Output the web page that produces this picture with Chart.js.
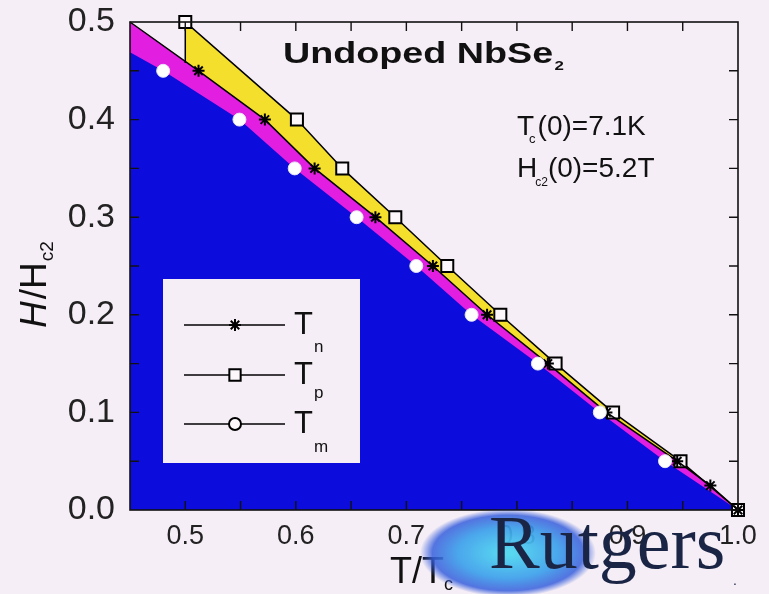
<!DOCTYPE html>
<html><head><meta charset="utf-8">
<script src="https://cdn.jsdelivr.net/npm/chart.js@4/dist/chart.umd.min.js"></script>
<style>html,body{margin:0;padding:0;background:#f6eef6;}canvas{display:block;}</style>
</head><body>
<canvas id="c" width="769" height="594"></canvas>
<script>
// ---- data ----
// T_n (asterisks): reduced temperature T/Tc and field H/Hc2
const tnT = [0.512, 0.572, 0.617, 0.672, 0.724, 0.773, 0.828, 0.881, 0.945, 0.975, 1.000];
const tnH = [0.45, 0.40, 0.35, 0.30, 0.25, 0.20, 0.15, 0.10, 0.05, 0.025, 0.00];
// T_p (open squares)
const tpT = [0.500, 0.601, 0.642, 0.690, 0.737, 0.785, 0.835, 0.887, 0.948, 1.000];
const tpH = [0.50, 0.40, 0.35, 0.30, 0.25, 0.20, 0.15, 0.10, 0.05, 0.00];
// T_m (open circles)
const tmT = [0.480, 0.549, 0.599, 0.655, 0.709, 0.759, 0.819, 0.875, 0.934, 1.000];
const tmH = [0.45, 0.40, 0.35, 0.30, 0.25, 0.20, 0.15, 0.10, 0.05, 0.00];
// where the shaded regions meet the frame
const tnEdge = [0.45, 0.500];
const tmEdge = [0.45, 0.469];
const tpEdge = [0.50, 0.458];
// axes
const xTickLabels = [0.5, 0.6, 0.7, 0.8, 0.9, 1.0];
const yTickLabels = [0.0, 0.1, 0.2, 0.3, 0.4, 0.5];
const xTickMarks = [0.5, 0.55, 0.6, 0.65, 0.7, 0.75, 0.8, 0.85, 0.9, 0.95];
const yTickMarks = [0.05, 0.1, 0.15, 0.2, 0.25, 0.3, 0.35, 0.4, 0.45];
const xRange = [0.45, 1.0];
const yRange = [0.0, 0.5];

const BG = '#f6eef6', BLUE = '#0c0cdc', MAGENTA = '#e21ee0', YELLOW = '#f3df2c';
const SANS = '"Liberation Sans", Arial, sans-serif';

function pts(xs, ys) { return xs.map((x, i) => ({x: x, y: ys[i]})); }
const edgePt = e => ({x: e[0], y: e[1]});

const datasets = [
  {label: 'fillTp', data: pts(tpT, tpH), showLine: true, fill: 'origin', backgroundColor: YELLOW,
   borderWidth: 0, pointRadius: 0, tension: 0, order: 6},
  {label: 'fillTn', data: [edgePt(tnEdge)].concat(pts(tnT, tnH)), showLine: true, fill: 'origin', backgroundColor: MAGENTA,
   borderWidth: 0, pointRadius: 0, tension: 0, order: 5},
  {label: 'fillTm', data: [edgePt(tmEdge)].concat(pts(tmT, tmH)), showLine: true, fill: 'origin', backgroundColor: BLUE,
   borderWidth: 0, pointRadius: 0, tension: 0, order: 4},
  {label: 'Tp', data: [edgePt(tpEdge)].concat(pts(tpT, tpH)), showLine: true, fill: false, borderColor: '#000', borderWidth: 1.5,
   pointStyle: 'rect', pointRadius: c => c.dataIndex === 0 ? 0 : 8.5, pointBackgroundColor: '#fbf7fb',
   pointBorderColor: '#000', pointBorderWidth: 2, tension: 0, clip: false, order: 3},
  {label: 'Tn', data: [edgePt(tnEdge)].concat(pts(tnT, tnH)), showLine: true, fill: false, borderColor: '#000', borderWidth: 1.5,
   pointStyle: 'star', pointRadius: c => c.dataIndex === 0 ? 0 : 6, pointBorderColor: '#000', pointBorderWidth: 2,
   tension: 0, clip: false, order: 2},
  {label: 'Tm', data: pts(tmT, tmH), showLine: false, fill: false,
   pointStyle: 'circle', pointRadius: c => (c.raw && c.raw.y === 0) ? 0 : 6.5, pointBackgroundColor: '#ffffff',
   pointBorderColor: '#e6e6f6', pointBorderWidth: 1, clip: false, order: 1}
];

function drawParts(ctx, parts, x, y) {
  let cx = x;
  for (const p of parts) {
    ctx.font = p.font;
    cx += (p.dx || 0);
    ctx.fillText(p.t, cx, y + (p.dy || 0));
    cx += ctx.measureText(p.t).width;
  }
}

const decor = {
  id: 'decor',
  beforeDraw(chart) {
    const ctx = chart.ctx;
    ctx.save(); ctx.fillStyle = BG; ctx.fillRect(0, 0, chart.width, chart.height); ctx.restore();
  },
  afterDatasetsDraw(chart) {
    const ctx = chart.ctx, a = chart.chartArea, xs = chart.scales.x, ys = chart.scales.y;
    ctx.save();
    ctx.strokeStyle = '#111'; ctx.lineWidth = 1.6;
    ctx.strokeRect(a.left, a.top, a.right - a.left, a.bottom - a.top);
    ctx.lineWidth = 1.4;
    const L = 9;
    ctx.beginPath();
    for (const v of xTickMarks) {
      const px = xs.getPixelForValue(v);
      ctx.moveTo(px, a.top); ctx.lineTo(px, a.top + L);
      ctx.moveTo(px, a.bottom); ctx.lineTo(px, a.bottom - L);
    }
    for (const v of yTickMarks) {
      const py = ys.getPixelForValue(v);
      ctx.moveTo(a.left, py); ctx.lineTo(a.left + L, py);
      ctx.moveTo(a.right, py); ctx.lineTo(a.right - L, py);
    }
    ctx.stroke();
    ctx.restore();
  },
  afterDraw(chart) {
    const ctx = chart.ctx, a = chart.chartArea;
    const H = Chart.helpers;
    ctx.save();
    ctx.fillStyle = '#111';
    ctx.textBaseline = 'alphabetic';
    ctx.textAlign = 'left';
    // title (horizontally stretched like the original)
    ctx.save();
    ctx.translate(a.left + 153, a.top + 41);
    ctx.scale(1.3, 1);
    drawParts(ctx, [
      {t: 'Undoped NbSe', font: 'bold 29px ' + SANS},
      {t: '2', font: 'bold 13px ' + SANS, dy: 7, dx: 1}
    ], 0, 0);
    ctx.restore();
    // parameters
    drawParts(ctx, [
      {t: 'T', font: '28px ' + SANS},
      {t: 'c', font: '13px ' + SANS, dy: 8, dx: -5},
      {t: '(0)=7.1K', font: '28px ' + SANS, dx: 2}
    ], a.left + 387, a.top + 113);
    drawParts(ctx, [
      {t: 'H', font: '28px ' + SANS},
      {t: 'c2', font: '12px ' + SANS, dy: 9, dx: -2},
      {t: '(0)=5.2T', font: '28px ' + SANS, dx: 0}
    ], a.left + 387, a.top + 155);

    // legend box
    const bx = a.left + 33, by = a.top + 257, bw = 197, bh = 184;
    ctx.fillStyle = BG;
    ctx.fillRect(bx, by, bw, bh);
    const rows = [
      {y: by + 46, ds: 4, sub: 'n', sdy: 18},
      {y: by + 96, ds: 3, sub: 'p', sdy: 14},
      {y: by + 145, ds: 5, sub: 'm', sdy: 19}
    ];
    for (const r of rows) {
      ctx.strokeStyle = '#000'; ctx.lineWidth = 1.5;
      ctx.beginPath(); ctx.moveTo(bx + 21, r.y); ctx.lineTo(bx + 122, r.y); ctx.stroke();
      const style = chart.data.datasets[r.ds].pointStyle;
      ctx.fillStyle = '#fbf7fb'; ctx.strokeStyle = '#000'; ctx.lineWidth = 2;
      const rad = style === 'rect' ? 8 : 6;
      H.drawPoint(ctx, {pointStyle: style, radius: rad, rotation: 0, borderWidth: 2}, bx + 72, r.y);
      ctx.fillStyle = '#111';
      drawParts(ctx, [
        {t: 'T', font: '31px ' + SANS},
        {t: r.sub, font: '17px ' + SANS, dy: r.sdy, dx: 1}
      ], bx + 131, r.y + 9);
    }

    // y axis title
    ctx.save();
    ctx.fillStyle = '#111';
    ctx.translate(46, 328);
    ctx.rotate(-Math.PI / 2);
    drawParts(ctx, [
      {t: 'H', font: 'italic 37px ' + SANS},
      {t: '/H', font: '37px ' + SANS, dx: 2},
      {t: 'c2', font: '19px ' + SANS, dy: 7, dx: 1}
    ], 0, 0);
    ctx.restore();

    // x axis title
    ctx.fillStyle = '#111';
    drawParts(ctx, [
      {t: 'T', font: '36px ' + SANS},
      {t: '/T', font: '36px ' + SANS},
      {t: 'c', font: '18px ' + SANS, dy: 7}
    ], 390, 583);

    // Rutgers logo watermark
    ctx.save();
    ctx.translate(508, 553);
    ctx.scale(1, 0.5);
    const g = ctx.createRadialGradient(0, 0, 5, 0, 0, 88);
    g.addColorStop(0, 'rgba(80,215,240,0.95)');
    g.addColorStop(0.55, 'rgba(60,160,235,0.92)');
    g.addColorStop(0.85, 'rgba(55,95,220,0.85)');
    g.addColorStop(1, 'rgba(55,95,220,0)');
    ctx.fillStyle = g;
    ctx.beginPath(); ctx.arc(0, 0, 88, 0, Math.PI * 2); ctx.fill();
    ctx.restore();
    ctx.fillStyle = '#1a2546';
    ctx.font = '76px "Liberation Serif", "Times New Roman", serif';
    ctx.fillText('Rutgers', 489, 568);
    ctx.font = '14px ' + SANS;
    ctx.fillText('.', 733, 585);
    ctx.restore();
  }
};

new Chart(document.getElementById('c'), {
  type: 'scatter',
  data: {datasets: datasets},
  options: {
    responsive: false,
    devicePixelRatio: 1,
    animation: false,
    events: [],
    layout: {padding: {left: 0, top: 22, right: 31, bottom: 0}},
    plugins: {legend: {display: false}, tooltip: {enabled: false}},
    scales: {
      x: {
        type: 'linear', min: xRange[0], max: xRange[1],
        grid: {display: false, drawTicks: false}, border: {display: false},
        afterBuildTicks: s => { s.ticks = xTickLabels.map(v => ({value: v})); },
        afterFit: s => { s.height = 84; s.paddingLeft = 0; s.paddingRight = 0; },
        ticks: {color: '#222', padding: 10, font: {family: SANS, size: 27},
                callback: v => Number(v).toFixed(1)}
      },
      y: {
        type: 'linear', min: yRange[0], max: yRange[1],
        grid: {display: false, drawTicks: false}, border: {display: false},
        afterBuildTicks: s => { s.ticks = yTickLabels.map(v => ({value: v})); },
        afterFit: s => { s.width = 130; s.paddingTop = 0; s.paddingBottom = 0; },
        ticks: {color: '#222', padding: 15, font: {family: SANS, size: 34},
                callback: v => Number(v).toFixed(1)}
      }
    }
  },
  plugins: [decor]
});
</script>
</body></html>
